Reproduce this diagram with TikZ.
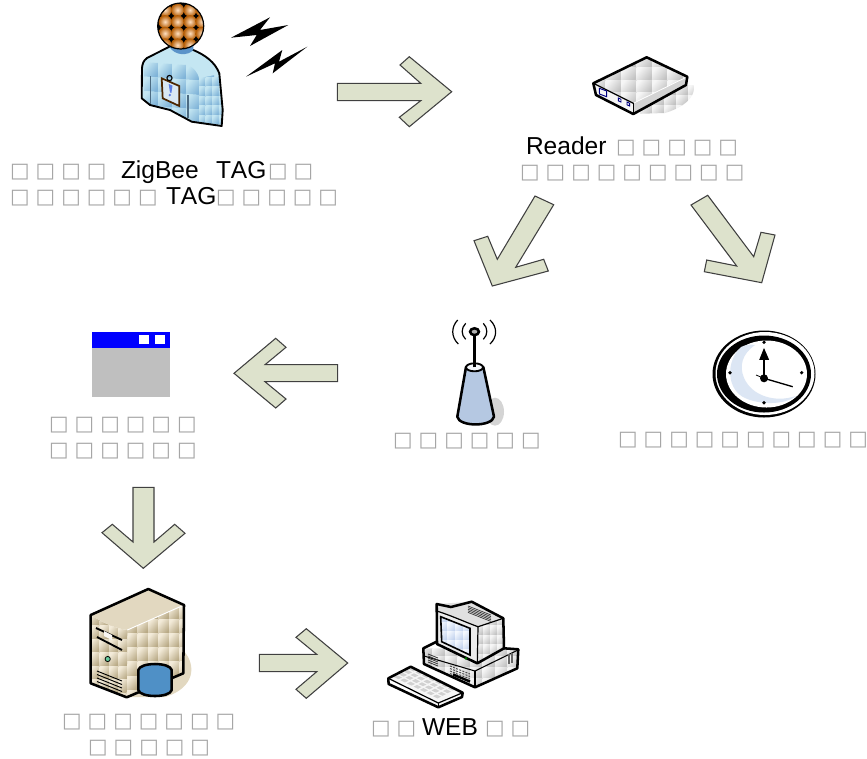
\documentclass[tikz,border=0pt]{standalone}
\usepackage{fontspec}
\setmainfont[Kerning=Off]{Liberation Sans}
\newfontfamily\boxfont{DejaVu Sans}
\usetikzlibrary{calc}
\definecolor{arrowfill}{HTML}{DDE2CC}
\definecolor{boxgrey}{HTML}{A6A6A6}
\definecolor{skyA}{HTML}{C4E6F2}
\definecolor{skyB}{HTML}{7FB3D8}
\definecolor{silverA}{HTML}{F6F6F6}
\definecolor{silverB}{HTML}{C2C2C2}
\definecolor{tanA}{HTML}{F3EBD9}
\definecolor{tanB}{HTML}{B8A985}
\definecolor{tanC}{HTML}{E2D8C0}
\definecolor{cylblue}{HTML}{4F90C6}
\definecolor{antblue}{HTML}{B5C8E2}
\definecolor{paleblue}{HTML}{DCE6F4}
\definecolor{neckblue}{HTML}{5B93C9}
\definecolor{screenA}{HTML}{F4F8FE}
\definecolor{screenB}{HTML}{C3D3EE}
\newcommand{\tofu}[1]{{\boxfont\fontsize{15.5pt}{15.5pt}\selectfont\color{boxgrey}\foreach \n in {1,...,#1}{\ifnum\n>1 \kern4.55pt\fi\char"25A1\relax}\kern-2pt}}
\newcommand{\tilegrid}[8]{% x0,y0 | ux,uy | vx,vy | nu,nv
  \foreach \i in {1,...,#7}{\foreach \j in {1,...,#8}{
    \shade[top color=\tA,bottom color=\tB,shading angle=50]
      ({#1+(\i-1)*(#3)+(\j-1)*(#5)},{#2+(\i-1)*(#4)+(\j-1)*(#6)})
      -- ++(#3,#4) -- ++(#5,#6) -- ++({-(#3)},{-(#4)}) -- cycle;
  }}}
\tikzset{
  blockarrow/.style={draw=black!75,line width=0.8pt,fill=arrowfill,line join=miter},
  lab/.style={anchor=base west,inner sep=0pt,outer sep=0pt,font=\fontsize{18.4pt}{18.4pt}\selectfont,text=black},
  tof/.style={anchor=base west,inner sep=0pt,outer sep=0pt,xshift=2.9pt,yshift=0.6pt},
  heavy/.style={draw=black,line width=1.9pt,line join=round},
  thinl/.style={draw=black,line width=0.8pt}
}
\begin{document}
\begin{tikzpicture}[x=0.75pt,y=-0.75pt]
\useasboundingbox (0,0) rectangle (867,758);
% ---- block arrows
\draw[blockarrow] (337.3,83.3) -- (420.7,83.3) -- (400,65) -- (409.3,56.7) -- (451.7,91.7) -- (409.3,126.7) -- (399.3,117.3) -- (420.7,100.7) -- (337.3,100.7) -- cycle;
\draw[blockarrow] (535,196) -- (553.7,204.7) -- (515.7,267.3) -- (543.7,259.3) -- (548.3,271) -- (492.3,286) -- (474,240.7) -- (487.7,236.3) -- (497.3,259.3) -- cycle;
\draw[blockarrow] (691,205) -- (707.7,195.3) -- (753.7,256.7) -- (761,232.3) -- (775,235) -- (761.7,282.7) -- (704.3,271.7) -- (706.7,260) -- (736.7,266) -- cycle;
\draw[blockarrow] (337.7,364.7) -- (265,364.7) -- (286,347.3) -- (275.7,338.3) -- (234,373.3) -- (275.7,408) -- (286,399) -- (265,381.7) -- (337.7,381.7) -- cycle;
\draw[blockarrow] (133,487.3) -- (154,487.3) -- (154,542) -- (174.7,524.3) -- (185,533.3) -- (143.3,568.3) -- (102,532.7) -- (112.3,524.3) -- (133,542) -- cycle;
\draw[blockarrow] (259.3,654.3) -- (316.7,654.3) -- (296,637.3) -- (306.3,628.7) -- (347.7,663) -- (306.3,698.3) -- (296,689.3) -- (316.7,671.7) -- (259.3,671.7) -- cycle;
% ---- person
\def\bodypath{(169.3,46.7) -- (147,58) .. controls (143,61) and (142.5,64) .. (142,68) -- (141.7,98.3) -- (150,105) -- (170,110) -- (191.7,121.7) -- (221.7,126) -- (222.7,110) -- (219.3,73.3) .. controls (215,62) and (205,55) .. (193.3,50) -- cycle}
\begin{scope}
\clip \bodypath;
\fill[skyA] (135,40) rectangle (230,130);
\def\tA{skyA}\def\tB{skyB}
\tilegrid{144}{62}{14}{1}{0}{14.5}{5}{5}
\tilegrid{199}{77}{6.6}{0}{0}{9.5}{4}{6}
\fill[skyA] (169,46) -- (194,50) .. controls (206,55) and (216,62) .. (220,74) -- (199,78) .. controls (197,68) and (185,60) .. (169,61) -- cycle;
\draw[skyB!60!black,line width=0.8pt] (150.5,76) -- (150.5,105) (188,95) -- (188,118);
\end{scope}
\draw[heavy,line width=1.4pt] \bodypath;
\fill[neckblue] (169.3,46.7) .. controls (175,56) and (188,56) .. (193.3,50) -- (193.3,44) -- (169.3,44) -- cycle;
% head
\begin{scope}
\clip (180.7,26) circle (23);
\fill[black] (157,2) rectangle (205,50);
\foreach \cx in {165,177.5,190,202}{\foreach \cy in {10,21.7,33.3,45}{
  \shade[inner color=white!75!orange,outer color=orange!70!black] (\cx,\cy) circle (6.6);
}}
\end{scope}
\draw[black,line width=0.9pt] (180.7,26) circle (23);
% badge
\draw[draw={black!70!orange},line width=1.3pt,fill=white!70!skyB] (161.7,78.3) -- (179.3,86) -- (179.3,106) -- (162.7,98.3) -- cycle;
\draw[black,line width=0.8pt] (169.5,78) circle (2.6);
\fill[skyB!70!blue] (168.7,84) -- (172.5,85.6) -- (171.4,93) -- (170,92.4) -- cycle (169.8,95) circle (1.3);
% bolts
\fill[black] (231,37.7) -- (270,17.3) -- (260,30) -- (288.3,25) -- (250,46) -- (256.7,35) -- cycle;
\fill[black] (246,76.7) -- (282.3,50) -- (279,61.7) -- (307.3,46.7) -- (272.7,73.3) -- (275,63.3) -- cycle;
% ---- reader
\begin{scope}
\clip (648,90) -- (688,76) .. controls (700,86) and (695,104) .. (665,113) -- (634,114) -- cycle;
\def\tA{silverA}\def\tB{silverB}
\tilegrid{640}{85}{12}{0}{0}{10}{5}{3}
\end{scope}
\begin{scope}
\clip (593.3,83.3) -- (646.7,57.3) -- (687.3,76.7) -- (633.3,103.3) -- cycle;
\def\tA{silverA}\def\tB{silverB}
\tilegrid{590}{55}{15.5}{0}{0}{12.5}{7}{4}
\end{scope}
\fill[silverA] (593.3,83.3) -- (633.3,103.3) -- (633.3,114) -- (596,95) -- cycle;
\fill[silverB!70] (633.3,103.3) -- (687.3,76.7) -- (686,85) -- (633.3,114) -- cycle;
\draw[white,line width=0.6pt] (633.3,103.3) -- (687.3,76.7);
\draw[heavy] (593.3,83.3) -- (646.7,57.3) -- (687.3,76.7) -- (686,85) -- (633.3,114) -- (596,95) -- cycle;
\draw[black,line width=0.9pt] (593.3,83.3) -- (633.3,103.3);
\draw[black,line width=1pt] (633.3,103.3) -- (633.3,114);
\draw[blue!50!black,line width=0.7pt] (599.3,88.3) -- (606.7,91) -- (606.7,96.7) -- (599.5,94) -- cycle (618.3,98) -- (621,99.3) -- (621,102) -- (618.3,100.8) -- cycle (627,102) -- (629.7,103.3) -- (629.7,106) -- (627,104.8) -- cycle;
% ---- window
\fill[black!25] (92,332) rectangle (170,396.7);
\fill[blue] (92,332) rectangle (170,348);
\fill[white] (139.3,334.7) rectangle (149.3,344);
\fill[white] (155,334.7) rectangle (165,344);
% ---- antenna
\fill[black!17] (495,411.7) ellipse (9 and 14);
\draw[heavy,fill=antblue] (466,367) -- (457.3,416.7) .. controls (459,427) and (492,427) .. (494,416.7) -- (483.3,367) -- cycle;
\draw[black,line width=1.4pt,fill=white!85!antblue] (474.5,367.3) ellipse (8.5 and 4);
\draw[black,line width=1.9pt] (474.5,367.3) -- (474.5,334);
\draw[black,line width=1.9pt,fill=white!70!black] (474.5,331.7) ellipse (4.4 and 3.4);
\draw[black,line width=0.9pt] (457.7,320) .. controls (451,327) and (451,337) .. (458.3,344);
\draw[black,line width=0.9pt] (465.7,323.3) .. controls (461,328) and (461,335) .. (465.7,339.3);
\draw[black,line width=0.9pt] (490,320) .. controls (497.5,327) and (497.5,337) .. (490,344);
\draw[black,line width=0.9pt] (483.3,323.3) .. controls (488,328) and (488,335) .. (483.3,339.3);
% ---- clock
\fill[black] (764,374) ellipse (51.5 and 43.5);
\fill[white] (765,373.5) ellipse (49.5 and 41.5);
\fill[black] (764,374) ellipse (47 and 38.5);
\fill[white] (766.5,374) ellipse (40.5 and 33.5);
\fill[paleblue] (741,347) .. controls (725,362) and (727,390) .. (745,398) .. controls (760,405) and (785,405) .. (796,396) .. controls (775,403) and (752,396) .. (744,378) .. controls (739,366) and (742,354) .. (755,345) .. controls (750,344) and (745,345) .. (741,347) -- cycle;
\fill[black] (764,342.3) circle (1.8) (730,372.7) circle (1.8) (801.7,372.7) circle (1.8) (764,402.7) circle (1.8);
\draw[black,line width=1.6pt] (764,378.3) -- (764,358);
\draw[black,line width=0.8pt,fill=black] (760,359.3) -- (768.3,359.3) -- (764,349.3) -- cycle;
\draw[black,line width=1pt] (764,378.3) -- (792.7,386.7);
\draw[black,line width=0.6pt] (764,378.3) -- (756,375);
\fill[black] (764,378.3) circle (4);
% ---- server
\fill[tanC] (183,650) .. controls (197,665) and (195,688) .. (165,697) -- (130,697) -- cycle;
\begin{scope}
\clip (127.3,630) -- (184,605) -- (183.3,673.3) -- (126.7,697.3) -- cycle;
\def\tA{tanA}\def\tB{tanB}
\tilegrid{127}{605}{10.5}{0}{0}{14.2}{6}{7}
\end{scope}
\begin{scope}
\clip (90.7,615) .. controls (105,624) and (115,628) .. (127.3,630) -- (126.7,697.3) -- (90.7,683.3) -- cycle;
\def\tA{tanA}\def\tB{tanB}
\tilegrid{90}{612}{9.5}{0}{0}{13.5}{4}{7}
\end{scope}
\fill[tanC] (90.7,615) -- (148.3,589) -- (184,605) -- (127.3,630) .. controls (115,628) and (105,624) .. (90.7,615) -- cycle;
\draw[white,line width=0.7pt] (127.3,630) -- (184,605);
\draw[heavy] (90.7,615) -- (148.3,589) -- (184,605) -- (183.3,673.3) -- (126.7,697.3) -- (90.7,683.3) -- cycle;
\draw[black,line width=1.4pt] (96,628) -- (122,640);
\draw[black,line width=1.4pt] (97,637) -- (122,650);
\fill[white!80!tanC] (104,631) -- (112,635) -- (112,640) -- (104,636) -- cycle;
\draw[black,line width=0.6pt,fill=green!30!teal!60] (107.7,659) circle (2.6);
\foreach \dy in {0,3.5,7,10.5}{\draw[black,line width=0.7pt] (97,{671+\dy}) -- (122,{681+\dy});}
\draw[heavy,fill=cylblue] (138.3,670) .. controls (140,662) and (170,662) .. (171.7,670) -- (171.7,690) .. controls (170,698) and (140,698) .. (138.3,690) -- cycle;
% ---- computer
\begin{scope}
\clip (423.3,648.3) -- (518.3,649.3) -- (517.3,668.3) -- (475,687.3) -- (424,664) -- cycle;
\def\tA{silverA}\def\tB{silverB}
\tilegrid{420}{645}{12.5}{0}{0}{11}{8}{4}
\end{scope}
\draw[heavy] (423.3,648.3) -- (436,642) -- (504,648.3) -- (518.3,649.3) -- (517.3,668.3) -- (475,687.3) -- (424,664) -- cycle;
\draw[black,line width=0.8pt] (424,656) -- (475,671) -- (518,650);
\draw[black,line width=0.8pt] (475,671) -- (475,687);
\foreach \dy in {0,2,4,6,8}{\draw[black!80,line width=0.6pt] (428,{654+\dy}) -- (438,{658+\dy});}
\foreach \dy in {0,2.5,5,7.5}{\draw[black!70,line width=0.7pt,dash pattern=on 1.5pt off 1pt] (450,{666+\dy}) -- (470,{674+\dy});}
\draw[black,line width=1.8pt] (453,674.5) -- (470,681.5);
\draw[black!60,line width=2pt] (509,654) -- (509,664);
\draw[black!60,line width=2pt] (512,652.5) -- (512,662.5);
\begin{scope}
\clip (478.3,626.7) -- (503.3,618.3) -- (504,648.3) -- (477.3,663.3) -- cycle;
\def\tA{silverA}\def\tB{silverB}
\tilegrid{476}{616}{7}{0}{0}{9.5}{5}{5}
\end{scope}
\fill[black!12] (436.7,604) -- (471.7,601.7) -- (503.3,618.3) -- (478.3,626.7) -- (437,612) -- cycle;
\fill[white!92!black] (436,612) -- (478,626.7) -- (477.3,663.3) -- (437,644) -- cycle;
\draw[heavy] (436.7,604) -- (451,607) -- (471.7,601.7) -- (503.3,618.3) -- (504,648.3) -- (477.3,663.3) -- (437,644) -- cycle;
\draw[black,line width=0.9pt] (436.7,611) .. controls (450,615) and (465,622) .. (478,626.7) -- (477.3,663.3);
\draw[black,line width=0.9pt] (478,626.7) -- (503.3,618.3);
\foreach \dy in {0,1.6,3.2,4.8,6.4}{\draw[black!80,line width=0.5pt] ({468},{606+\dy}) -- ({491},{618+\dy-3});}
\begin{scope}
\clip (440.7,616.7) -- (470,628.3) -- (470,655) -- (441.7,641.7) -- cycle;
\def\tA{screenA}\def\tB{screenB}
\tilegrid{439}{613}{8}{0}{0}{9}{4}{5}
\end{scope}
\draw[black,line width=1.2pt] (440.7,616.7) -- (470,628.3) -- (470,655) -- (441.7,641.7) -- cycle;
\fill[green!45!black] (466,658.3) circle (1.5);
% keyboard
\fill[silverA] (388.3,678.3) -- (410.7,666.7) -- (462.7,692.7) -- (438.3,707.3) -- cycle;
\foreach \r in {0,1,2,3}{\foreach \c in {0,...,6}{
  \fill[silverB!75] ({394+\c*6.5+\r*5},{677+\c*3.2-\r*2.6}) -- ++(4.5,2.2) -- ++(3.5,-1.7) -- ++(-4.5,-2.2) -- cycle;
}}
\draw[heavy] (388.3,678.3) -- (410.7,666.7) -- (462.7,692.7) -- (462,697) -- (438.3,707.3) -- (388.6,684) -- cycle;
\draw[black,line width=0.9pt] (388.3,678.3) -- (438.3,703) -- (462.7,692.7);
\draw[black,line width=0.9pt] (438.3,703) -- (438.3,707.3);
% ---- labels
\node[tof] (l1a) at (6.2,178) {\tofu{4}};
\node[lab] (l1b) at (121,178) {ZigBee};
\node[lab] (l1c) at (216,178) {TAG};
\node[tof] (l1d) at (264.2,178) {\tofu{2}};
\node[tof] (l2a) at (6.2,204) {\tofu{6}};
\node[lab] (l2b) at (166,204) {TAG};
\node[tof] (l2c) at (212.2,204) {\tofu{5}};
\node[lab] (r1a) at (526,154) {Reader};
\node[tof] (r1b) at (612.2,154) {\tofu{5}};
\node[tof] (r2a) at (516.2,179) {\tofu{9}};
\node[tof] (w1) at (45.2,431.7) {\tofu{6}};
\node[tof] (w2) at (45.2,457.7) {\tofu{6}};
\node[tof] (a1) at (389.2,447) {\tofu{6}};
\node[tof] (c1) at (614.2,446) {\tofu{10}};
\node[tof] (s1) at (58.2,728) {\tofu{7}};
\node[tof] (s2) at (84.2,754) {\tofu{5}};
\node[tof] (p1) at (367.2,735) {\tofu{2}};
\node[lab] (p2) at (422,735) {WEB};
\node[tof] (p3) at (481.2,735) {\tofu{2}};
\end{tikzpicture}
\end{document}
